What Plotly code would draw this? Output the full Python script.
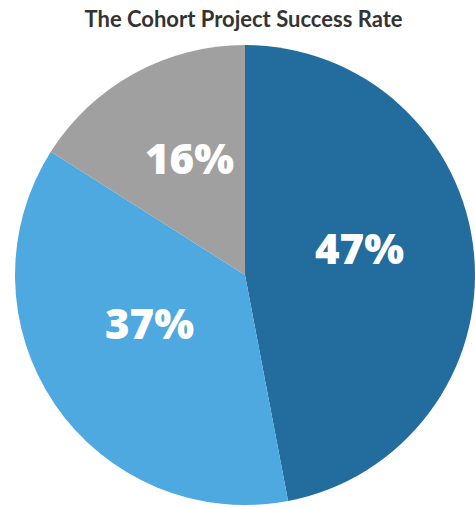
import math
import plotly.graph_objects as go

labels = ["Success", "Partial", "Other"]
values = [47, 37, 16]
colors = ["#226C9E", "#4DA9E0", "#A0A0A0"]
title = "The Cohort Project Success Rate"

W, H = 475, 508
dom_x = [15 / W, 1.0]
dom_y = [3 / H, 463 / H]

fig = go.Figure(go.Pie(
    labels=labels,
    values=values,
    sort=False,
    direction="clockwise",
    rotation=0,
    marker=dict(colors=colors, line=dict(width=0)),
    textinfo="none",
    domain=dict(x=dom_x, y=dom_y),
    showlegend=False,
    hoverinfo="label+percent",
))

# percent labels placed radially at slice mid-angles
total = sum(values)
cx = (dom_x[0] + dom_x[1]) / 2 * W
cy = (dom_y[0] + dom_y[1]) / 2 * H
R = (dom_x[1] - dom_x[0]) * W / 2
label_r = 0.5 * R
cum = 0
for v in values:
    mid = (cum + v / 2) / total * 2 * math.pi
    cum += v
    px = cx + label_r * math.sin(mid)
    py = cy + label_r * math.cos(mid)
    fig.add_annotation(
        x=px / W, y=py / H, xref="paper", yref="paper",
        text=f"{round(v / total * 100)}%", showarrow=False,
        xanchor="center", yanchor="middle", yshift=17,
        font=dict(family="Open Sans", size=42, color="white", weight=800),
    )

fig.update_layout(
    width=W, height=H,
    margin=dict(l=0, r=0, t=0, b=0),
    paper_bgcolor="white",
    title=dict(text=title, x=0.5126, xanchor="center", y=1 - 19 / H, yanchor="middle",
               font=dict(family="Lato", size=22, color="#333333", weight="bold")),
)

fig.write_html("out.html")
